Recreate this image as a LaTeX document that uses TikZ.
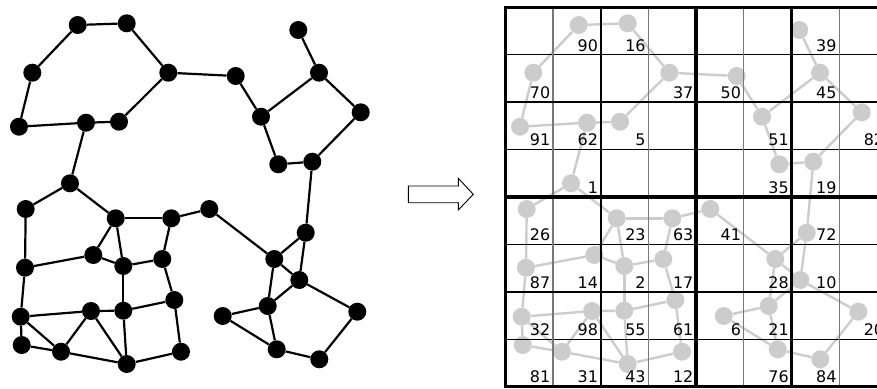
\documentclass[tikz,border=0pt]{standalone}
\usepackage{fontspec}
\setmainfont{DejaVu Sans}
\pgfdeclarelayer{edges}
\pgfsetlayers{edges,main}
\definecolor{netgray}{RGB}{204,204,204}
\definecolor{gridgray}{RGB}{120,120,120}

% node name / x / y / grid column / grid row
\def\netnodes{90/77.7/25/1/0, 16/126.7/23.3/2/0, 70/32.3/72.7/0/1, 37/168.3/72.7/3/1,
  50/235.7/76/4/1, 39/298.3/30/6/0, 45/319/72.7/6/1, 91/19/126.7/0/2, 62/86/122.7/1/2,
  5/119/121.7/2/2, 51/261/116.7/5/2, 82/360.7/112.3/7/2, 35/278.3/164.3/5/3,
  19/312.3/161.7/6/3, 1/70/183.3/1/3, 26/25.7/209/0/4, 23/115.7/218.3/2/4,
  63/171.3/218.3/3/4, 41/209.3/209/4/4, 72/305.7/232.7/6/4, 14/93.3/255/1/5,
  87/25/267.7/0/5, 2/123.3/266/2/5, 17/162.3/259/3/5, 28/274.3/259/5/5,
  10/299.3/280/6/5, 61/174.3/300/3/6, 32/20.7/316.7/0/6, 98/91/311/1/6,
  55/123.3/310.7/2/6, 21/267.7/306/5/6, 6/222.7/316/4/6, 20/357.3/311.7/7/6,
  81/21.7/345/0/7, 31/61/351.7/1/7, 43/126.7/364/2/7, 12/181/351.7/3/7,
  76/276.7/349.3/5/7, 84/319.3/359.3/6/7}

\def\netedges{90/16, 90/70, 16/37, 70/91, 91/62, 62/5, 5/37, 37/50, 50/51, 62/1,
  39/45, 45/51, 45/82, 51/35, 35/19, 82/19, 19/72, 1/26, 1/23, 26/87, 23/63, 23/14,
  23/2, 63/41, 63/17, 41/28, 72/28, 72/10, 28/10, 14/87, 14/2, 2/17, 2/55, 17/61,
  87/32, 28/21, 10/21, 10/20, 32/98, 98/55, 55/61, 32/81, 32/31, 98/31, 98/43,
  55/43, 61/12, 43/12, 81/31, 31/43, 6/21, 6/76, 21/76, 76/84, 20/84}

\begin{document}
\begin{tikzpicture}[x=1bp,y=-1bp,
  dot/.style={circle,fill=black,inner sep=0pt,minimum size=18bp},
  ghost/.style={circle,fill=netgray,inner sep=0pt,minimum size=18bp},
  link/.style={line width=2.2bp,black},
  ghostlink/.style={line width=2.4bp,netgray},
  cellnum/.style={anchor=base east,inner sep=0pt,font=\fontsize{16}{16}\selectfont},
  thinrow/.style={line width=1bp,black},
  thincol/.style={line width=1.1bp,gridgray},
  midline/.style={line width=2.1bp,black},
  thickline/.style={line width=3.6bp,black},
  bigarrow/.style={line width=0.9bp,black,fill=white,line join=miter}]

\path[use as bounding box] (0,0) rectangle (877,388);

% black network
\foreach \n/\x/\y/\c/\r in \netnodes {\node[dot] (b\n) at (\x,\y) {};}
\begin{pgfonlayer}{edges}
  \foreach \a/\b in \netedges {\draw[link] (b\a) -- (b\b);}
\end{pgfonlayer}

% transformation arrow
\draw[bigarrow] (408.3,186) -- (458.3,186) -- (458.3,178.3) -- (473.3,194.3)
  -- (458.3,210) -- (458.3,202.7) -- (408.3,202.7) -- cycle;

% grey copy of the network
\begin{scope}[xshift=501bp]
  \foreach \n/\x/\y/\c/\r in \netnodes {\node[ghost] (g\n) at (\x,\y) {};}
\end{scope}
\begin{pgfonlayer}{edges}
  \foreach \a/\b in \netedges {\draw[ghostlink] (g\a) -- (g\b);}
\end{pgfonlayer}

% grid over the grey network
\begin{scope}
  \clip (0,0) rectangle (877,388);
  \foreach \j in {1,3,5,7} {\draw[thinrow] (505.3,{7.3+\j*47.4}) -- (886.9,{7.3+\j*47.4});}
  \foreach \i in {1,3,5,7} {\draw[thincol] ({505.3+\i*47.7},7.3) -- ({505.3+\i*47.7},386.5);}
  \foreach \j in {2,6} {\draw[midline] (505.3,{7.3+\j*47.4}) -- (886.9,{7.3+\j*47.4});}
  \foreach \i in {2,6} {\draw[midline] ({505.3+\i*47.7},7.3) -- ({505.3+\i*47.7},386.5);}
  \draw[thickline] (505.3,196.9) -- (886.9,196.9);
  \draw[thickline] (696.1,7.3) -- (696.1,386.5);
  \draw[thickline] (505.3,7.3) rectangle (886.9,386.5);
\end{scope}

% cell numbers
\foreach \n/\x/\y/\c/\r in \netnodes {
  \node[cellnum] (t\n) at ({505.3+(\c+1)*47.7-2.6},{7.3+(\r+1)*47.4-3.6}) {\n};
}
\end{tikzpicture}
\end{document}
